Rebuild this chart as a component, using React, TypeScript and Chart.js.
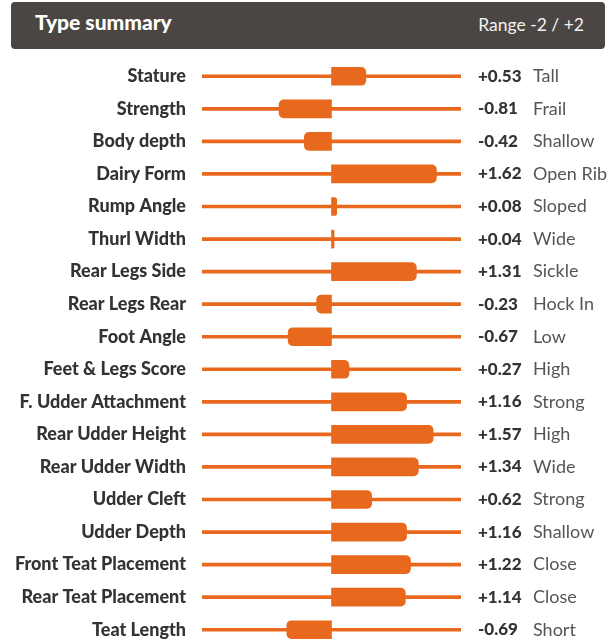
import React, { useEffect, useRef } from "react";
import { Chart, registerables } from "chart.js";

Chart.register(...registerables);

const traits = [
  "Stature",
  "Strength",
  "Body depth",
  "Dairy Form",
  "Rump Angle",
  "Thurl Width",
  "Rear Legs Side",
  "Rear Legs Rear",
  "Foot Angle",
  "Feet & Legs Score",
  "F. Udder Attachment",
  "Rear Udder Height",
  "Rear Udder Width",
  "Udder Cleft",
  "Udder Depth",
  "Front Teat Placement",
  "Rear Teat Placement",
  "Teat Length",
];

const values = [
  0.53, -0.81, -0.42, 1.62, 0.08, 0.04, 1.31, -0.23, -0.67, 0.27, 1.16, 1.57,
  1.34, 0.62, 1.16, 1.22, 1.14, -0.69,
];

const descriptions = [
  "Tall",
  "Frail",
  "Shallow",
  "Open Rib",
  "Sloped",
  "Wide",
  "Sickle",
  "Hock In",
  "Low",
  "High",
  "Strong",
  "High",
  "Wide",
  "Strong",
  "Shallow",
  "Close",
  "Close",
  "Short",
];

const rangeMin = -2;
const rangeMax = 2;

const ORANGE = "#E8691D";
const FONT = "Lato, 'Open Sans', sans-serif";

const fmt = (v: number) => (v >= 0 ? "+" : "-") + Math.abs(v).toFixed(2);

const fitTo = (w: number) => (s: any) => {
  s.width = w;
  s.paddingTop = 0;
  s.paddingBottom = 0;
};

export default function App() {
  const ref = useRef<HTMLCanvasElement | null>(null);

  useEffect(() => {
    document.body.style.margin = "0";
    document.body.style.overflow = "hidden";
    const canvas = ref.current;
    if (!canvas) return;
    const chart = new Chart(canvas, {
      type: "bar",
      data: {
        labels: traits,
        datasets: [
          {
            label: "value",
            data: values,
            backgroundColor: ORANGE,
            borderWidth: 0,
            borderRadius: 5,
            borderSkipped: "start",
            barThickness: 18,
            grouped: false,
            order: 1,
          } as any,
          {
            label: "track",
            data: traits.map(() => [rangeMin, rangeMax]),
            backgroundColor: ORANGE,
            borderWidth: 0,
            borderRadius: 0,
            barThickness: 3,
            grouped: false,
            order: 2,
          } as any,
        ],
      },
      options: {
        indexAxis: "y",
        responsive: false,
        maintainAspectRatio: false,
        animation: false,
        devicePixelRatio: 1,
        layout: { padding: { top: 60, left: 0, right: 0, bottom: 0 } },
        plugins: {
          legend: { display: false },
          tooltip: { enabled: false },
          title: { display: false },
        },
        scales: {
          x: {
            type: "linear",
            min: rangeMin,
            max: rangeMax,
            display: false,
          },
          y: {
            type: "category",
            position: "left",
            offset: true,
            grid: { display: false, drawTicks: false },
            border: { display: false },
            ticks: {
              autoSkip: false,
              padding: 16,
              color: "#333333",
              font: { family: FONT, size: 18, weight: 900 },
            },
            afterFit: fitTo(202),
          },
          yValue: {
            type: "category",
            position: "right",
            weight: 1,
            labels: values.map(fmt),
            offset: true,
            grid: { display: false, drawTicks: false },
            border: { display: false },
            ticks: {
              autoSkip: false,
              padding: 17,
              color: "#333333",
              font: { family: FONT, size: 17, weight: 900 },
            },
            afterFit: fitTo(72),
          },
          yDesc: {
            type: "category",
            position: "right",
            weight: 2,
            labels: descriptions,
            offset: true,
            grid: { display: false, drawTicks: false },
            border: { display: false },
            ticks: {
              autoSkip: false,
              padding: 0,
              color: "#555555",
              font: { family: FONT, size: 18, weight: "normal" },
            },
            afterFit: fitTo(80),
          },
        } as any,
      },
    });
    return () => chart.destroy();
  }, []);

  return (
    <div
      style={{
        position: "relative",
        width: 613,
        height: 646,
        overflow: "hidden",
        background: "#ffffff",
      }}
    >
      <canvas
        ref={ref}
        width={613}
        height={646}
        style={{ position: "absolute", left: 0, top: 0, width: 613, height: 646 }}
      />
      <div
        style={{
          position: "absolute",
          left: 11,
          top: 2,
          width: 594,
          height: 47,
          background: "#4B4643",
          borderRadius: 4,
          zIndex: 2,
          fontFamily: FONT,
          color: "#ffffff",
        }}
      >
        <div
          style={{
            position: "absolute",
            left: 24,
            top: 7,
            fontSize: 21,
            fontWeight: 900,
            lineHeight: "26px",
          }}
        >
          Type summary
        </div>
        <div
          style={{
            position: "absolute",
            right: 21,
            top: 12,
            fontSize: 17.5,
            lineHeight: "22px",
            color: "#f2f2f2",
          }}
        >
          Range -2 / +2
        </div>
      </div>
    </div>
  );
}
